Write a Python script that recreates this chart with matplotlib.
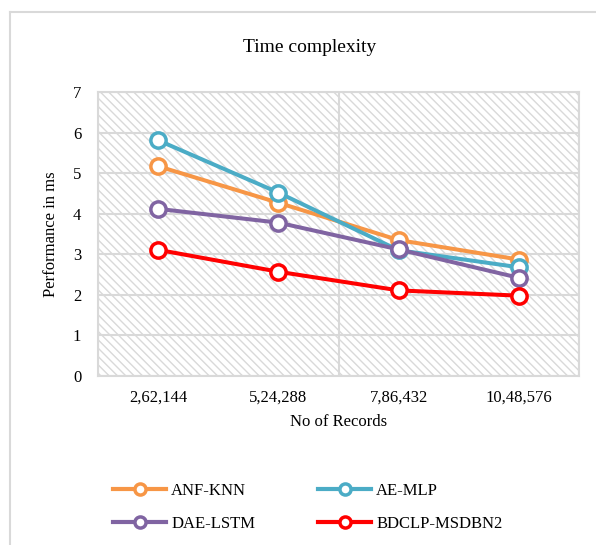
import matplotlib
matplotlib.use("Agg")
import matplotlib.pyplot as plt
from matplotlib.lines import Line2D
from matplotlib.patches import Rectangle

categories = ["2,62,144", "5,24,288", "7,86,432", "10,48,576"]
series_names = ["ANF-KNN", "AE-MLP", "DAE-LSTM", "BDCLP-MSDBN2"]
anf_knn = [5.17, 4.27, 3.35, 2.87]
ae_mlp = [5.81, 4.52, 3.10, 2.68]
dae_lstm = [4.12, 3.78, 3.12, 2.42]
bdclp = [3.11, 2.57, 2.11, 1.98]
colors = ["#F79646", "#4BACC6", "#8064A2", "#FF0000"]
yticks = [0, 1, 2, 3, 4, 5, 6, 7]

plt.rcParams['font.family'] = ['Liberation Serif', 'DejaVu Serif']
plt.rcParams['hatch.linewidth'] = 1.0

fig = plt.figure(figsize=(5.96, 5.45), dpi=100)
ax = fig.add_axes([98/596, 1-376/545, (579-98)/596, (376-92)/545])

x = list(range(1, len(categories)+1))
ax.set_xlim(0.5, 4.5)
ax.set_ylim(0, 7)

# hatched background
ax.add_patch(Rectangle((0, 0), 1, 1, transform=ax.transAxes, facecolor='white',
                       edgecolor='#d9d9d9', linewidth=0, hatch='\\\\\\\\', zorder=0))
for yv in yticks:
    ax.axhline(yv, color='#d9d9d9', lw=1.5, zorder=1)
for xv in [0.5, 2.5, 4.5]:
    ax.axvline(xv, color='#d9d9d9', lw=1.5, zorder=1)

lines = []
for name, vals, c in zip(series_names, [anf_knn, ae_mlp, dae_lstm, bdclp], colors):
    ln, = ax.plot(x, vals, color=c, lw=2.9, marker='o', markersize=11,
                  markerfacecolor='white', markeredgecolor=c, markeredgewidth=2.5,
                  label=name, zorder=3, clip_on=False)
    lines.append(ln)

for s in ax.spines.values():
    s.set_color('#d9d9d9')
    s.set_linewidth(1.5)

ax.set_xticks(x)
ax.set_xticklabels(categories, fontsize=12)
ax.set_yticks(yticks)
ax.set_yticklabels([str(v) for v in yticks], fontsize=12)
ax.tick_params(length=0, pad=12)
ax.tick_params(axis='x', pad=10)
ax.set_xlabel("No of Records", fontsize=12, labelpad=6)
ax.set_ylabel("Performance in ms", fontsize=12, labelpad=10)
fig.text(310/596, 1-47/545, "Time complexity", fontsize=14, ha='center', va='center')

order = [0, 2, 1, 3]
leg = ax.legend([lines[i] for i in order], [series_names[i] for i in order],
                loc='upper left', bbox_to_anchor=(0.0, -0.325), ncol=2, frameon=False,
                fontsize=12, handlelength=3.2, columnspacing=3.75, labelspacing=1.0,
                handletextpad=0.3)
for h in leg.legend_handles:
    h.set_markersize(8)
    h.set_linewidth(3)

# outer frame
fig.add_artist(Line2D([10/596, 1], [1-12/545, 1-12/545], color='#d9d9d9', lw=1.5))
fig.add_artist(Line2D([10/596, 10/596], [0, 1-12/545], color='#d9d9d9', lw=1.5))

fig.savefig("out.png", dpi=100)
